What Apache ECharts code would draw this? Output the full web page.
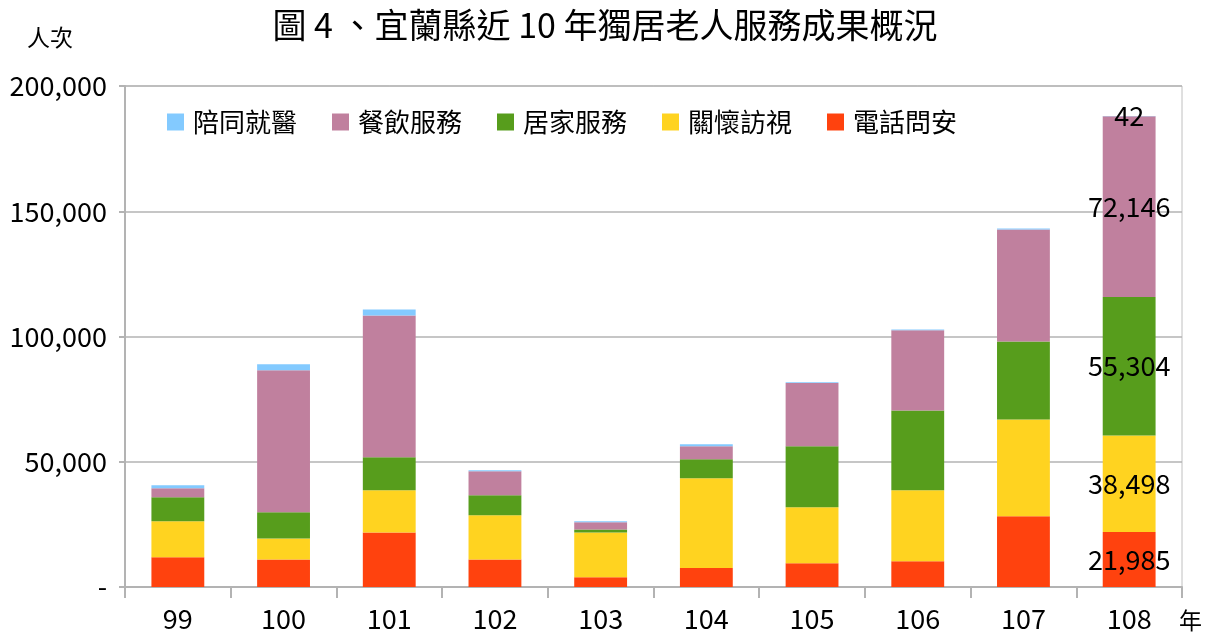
<!DOCTYPE html>
<html><head><meta charset="utf-8">
<script src="https://cdn.jsdelivr.net/npm/echarts@6/dist/echarts.min.js"></script>
<style>html,body{margin:0;padding:0;background:#fff}#c{width:1210px;height:636px}</style>
</head><body><div id="c"></div>
<script>
var categories = ['99','100','101','102','103','104','105','106','107','108'];
var phoneCalls   = [11900, 11000, 21800, 11000, 3900, 7600, 9500, 10300, 28200, 21985];   // 電話問安
var careVisits   = [14300, 8400, 16800, 17600, 17900, 35800, 22300, 28300, 38700, 38498]; // 關懷訪視
var homeService  = [9600, 10400, 13200, 8000, 1200, 7600, 24400, 31900, 31100, 55304];    // 居家服務
var mealService  = [3600, 56700, 56600, 9600, 2800, 5200, 25200, 32000, 44700, 72146];    // 餐飲服務
var escortMedical= [1200, 2400, 2400, 400, 400, 800, 300, 300, 400, 42];                   // 陪同就醫
var yTicks = [0, 50000, 100000, 150000, 200000];

var FONT = '"Noto Sans CJK TC","Noto Sans",sans-serif';
function fmt(v){ return v === 0 ? '-' : v.toLocaleString('en-US'); }
function mk(name, arr, color){
  return {
    name: name, type: 'bar', stack: 'total', barWidth: '50%',
    itemStyle: {color: color},
    data: arr.map(function(v, i){
      return {value: v, label: {show: i === arr.length - 1}};
    }),
    label: {position: 'inside', color: '#000', fontSize: 27, fontFamily: FONT,
      formatter: function(p){ return p.value.toLocaleString('en-US'); }}
  };
}
var chart = echarts.init(document.getElementById('c'));
chart.setOption({
  animation: false,
  textStyle: {fontFamily: FONT},
  title: {text: '圖 4 、宜蘭縣近 10 年獨居老人服務成果概況', left: 'center', top: 3,
    textStyle: {fontSize: 34, fontWeight: 'normal', color: '#000', fontFamily: FONT}},
  legend: {
    data: ['陪同就醫','餐飲服務','居家服務','關懷訪視','電話問安'],
    left: 162, top: 104, itemWidth: 17, itemHeight: 17, itemGap: 35, icon: 'rect',
    textStyle: {fontSize: 26, color: '#000', fontFamily: FONT, padding: [0, 0, 0, 4]}
  },
  grid: {left: 125, right: 28, top: 86, bottom: 49, show: true, borderColor: '#c0c0c0', borderWidth: 1},
  xAxis: {
    type: 'category', data: categories,
    axisLine: {lineStyle: {color: '#b3b3b3', width: 2}},
    axisTick: {show: true, length: 11, lineStyle: {color: '#b3b3b3', width: 2}},
    axisLabel: {fontSize: 27, color: '#000', margin: 18, fontFamily: FONT}
  },
  yAxis: {
    type: 'value', min: yTicks[0], max: yTicks[yTicks.length-1], interval: yTicks[1]-yTicks[0],
    axisLine: {show: true, lineStyle: {color: '#b3b3b3', width: 2}},
    axisTick: {show: true, length: 6, lineStyle: {color: '#b3b3b3', width: 2}},
    splitLine: {lineStyle: {color: '#b3b3b3', width: 1.5}},
    axisLabel: {fontSize: 27, color: '#000', margin: 18, formatter: fmt, fontFamily: FONT}
  },
  graphic: [
    {type: 'text', left: 27, top: 26, style: {text: '人次', font: '23px ' + FONT, fill: '#000'}},
    {type: 'text', left: 1179, top: 609, style: {text: '年', font: '23px ' + FONT, fill: '#000'}}
  ],
  series: [
    mk('電話問安', phoneCalls, '#ff420e'),
    mk('關懷訪視', careVisits, '#ffd320'),
    mk('居家服務', homeService, '#579d1c'),
    mk('餐飲服務', mealService, '#c0809e'),
    mk('陪同就醫', escortMedical, '#83caff')
  ]
});
</script></body></html>
